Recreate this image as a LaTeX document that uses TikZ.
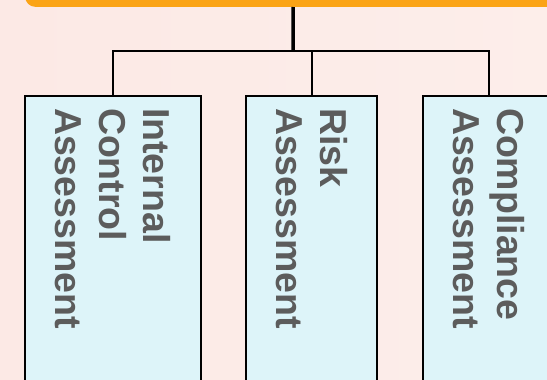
\documentclass[tikz,border=0pt]{standalone}
\usepackage{fontspec}
\setmainfont{Liberation Sans}
\definecolor{bgPink}{HTML}{FCE9E5}
\definecolor{bgLight}{HTML}{FEF9F6}
\definecolor{headOrange}{HTML}{FBA416}
\definecolor{boxCyan}{HTML}{DDF4F9}
\definecolor{textGray}{HTML}{5C5C5C}

\begin{document}
\begin{tikzpicture}[x=1pt,y=-1pt,
  headBox/.style={fill=headOrange, rounded corners=10pt, minimum width=536pt, minimum height=40pt, inner sep=0pt},
  assessBox/.style={draw=black, line width=2pt, fill=boxCyan, rotate=-90, anchor=west,
    text width=276pt, inner xsep=12pt, inner ysep=0pt, align=left,
    font={\fontsize{37.5}{44}\selectfont\bfseries}, text=textGray},
  trunkLine/.style={line width=3.5pt},
  treeLine/.style={line width=2pt}]
\useasboundingbox (0,0) rectangle (547,380);
\shade[left color=bgPink, middle color=bgLight, right color=bgPink!70!bgLight] (0,0) rectangle (547,380);
% header, cut off at the top
\node[headBox, anchor=south west] (head) at (25,7) {};
\coordinate (split) at (293,51);
% the three assessments
\node[assessBox, minimum height=176pt] (ica) at (113,95) {Internal\\Control\\Assessment};
\node[assessBox, minimum height=131pt] (risk) at (311.5,95) {Risk\\Assessment};
\node[assessBox, minimum height=132pt] (comp) at (489,95) {Compliance\\Assessment};
% tree
\draw[trunkLine] (head.south) -- (split);
\draw[treeLine] (ica.west) |- (split) -| (comp.west);
\draw[treeLine] (risk.west) -- (risk.west |- split);
\end{tikzpicture}
\end{document}
